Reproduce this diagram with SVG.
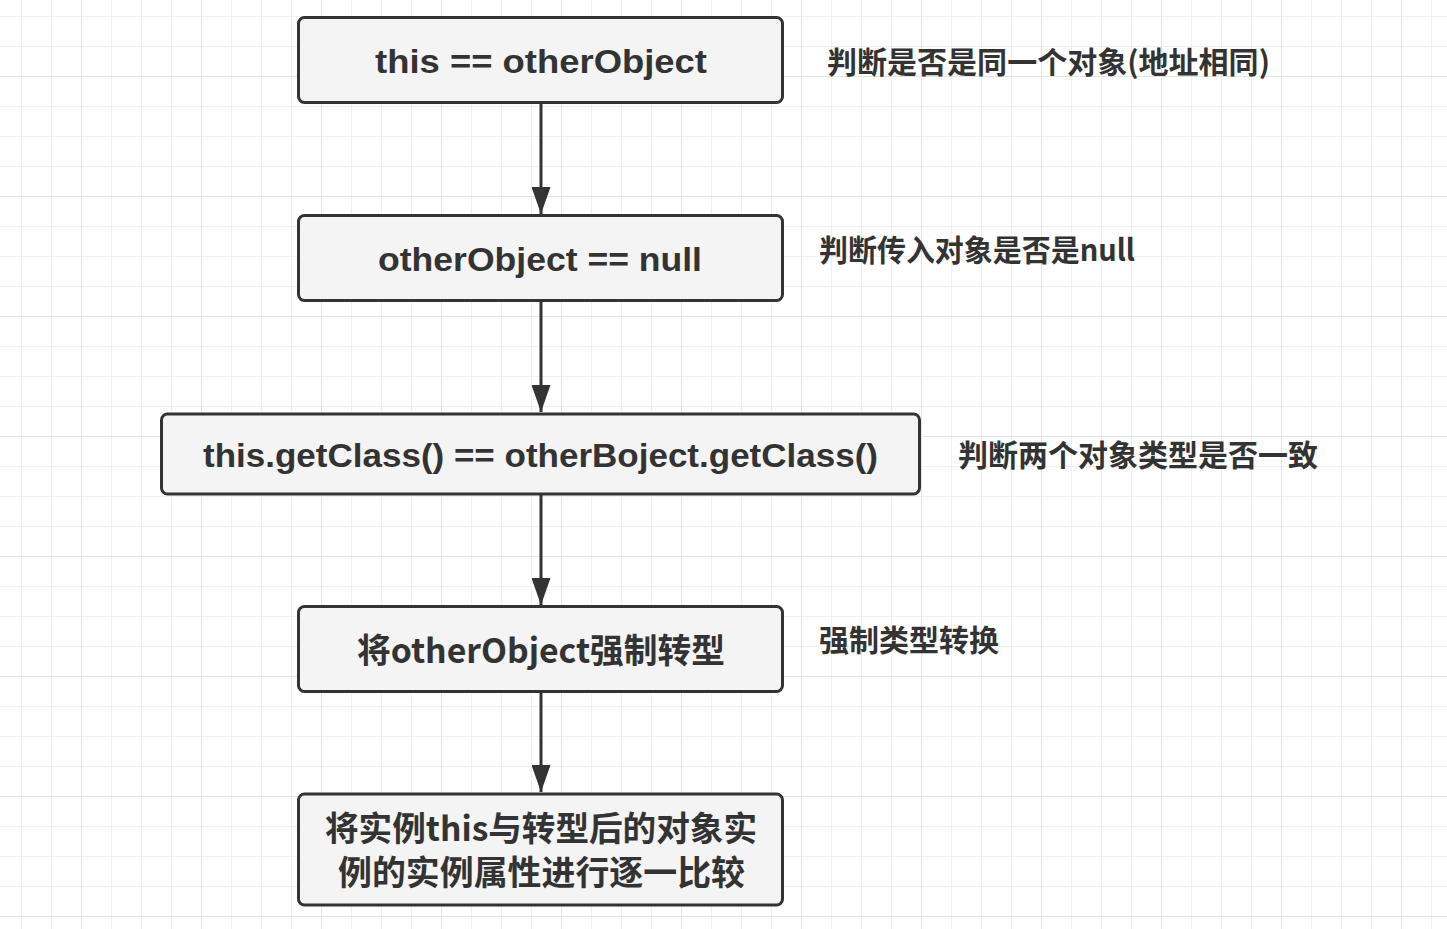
<svg xmlns="http://www.w3.org/2000/svg" width="1447" height="929" viewBox="0 0 1447 929">
<style>
.box{fill:#f4f4f4;stroke:#333;stroke-width:3}
.lbl{font-family:"Liberation Sans","Noto Sans CJK SC",sans-serif;font-weight:bold;font-size:33px;fill:#333;text-anchor:middle}
.cjk{font-family:"Noto Sans CJK SC","Liberation Sans",sans-serif;font-weight:bold;font-size:34px;fill:#333;text-anchor:middle}
.note{font-family:"Noto Sans CJK SC","Liberation Sans",sans-serif;font-weight:bold;font-size:30px;fill:#333}
.edge{stroke:#333;stroke-width:3;fill:none}
.minor{fill:#f0f0f0}
.major{fill:#e4e4e4}
</style>
<defs>
<pattern id="grid" patternUnits="userSpaceOnUse" x="0" y="0" width="120" height="120">
<rect class="minor" x="21" y="0" width="1" height="120"/>
<rect class="minor" x="51" y="0" width="1" height="120"/>
<rect class="minor" x="111" y="0" width="1" height="120"/>
<rect class="minor" x="0" y="16" width="120" height="1"/>
<rect class="minor" x="0" y="46" width="120" height="1"/>
<rect class="minor" x="0" y="106" width="120" height="1"/>
<rect class="major" x="81" y="0" width="1" height="120"/>
<rect class="major" x="0" y="76" width="120" height="1"/>
</pattern>
<marker id="arrow" markerUnits="userSpaceOnUse" markerWidth="27" markerHeight="19" refX="27" refY="9.5" orient="auto" viewBox="0 0 27 19">
<path d="M0,0 L27,9.5 L0,19 Z" fill="#333"/>
</marker>
</defs>
<rect x="0" y="0" width="1447" height="929" fill="#ffffff"/>
<rect x="0" y="0" width="1447" height="929" fill="url(#grid)"/>
<g id="connectors">
<line class="edge" x1="541" y1="104" x2="541" y2="214" marker-end="url(#arrow)"/>
<line class="edge" x1="541" y1="301" x2="541" y2="412" marker-end="url(#arrow)"/>
<line class="edge" x1="541" y1="495" x2="541" y2="605" marker-end="url(#arrow)"/>
<line class="edge" x1="541" y1="692" x2="541" y2="792" marker-end="url(#arrow)"/>
</g>
<g id="node1">
<rect class="box" x="298.5" y="17.5" width="484" height="85" rx="6"/>
<text class="lbl" x="541" y="73" textLength="332" lengthAdjust="spacingAndGlyphs">this == otherObject</text>
</g>
<g id="node2">
<rect class="box" x="298.5" y="215.5" width="484" height="85" rx="6"/>
<text class="lbl" x="540" y="271" textLength="324" lengthAdjust="spacingAndGlyphs">otherObject == null</text>
</g>
<g id="node3">
<rect class="box" x="161.5" y="414" width="758" height="80" rx="6"/>
<text class="lbl" x="540.5" y="466.5" textLength="675" lengthAdjust="spacingAndGlyphs">this.getClass() == otherBoject.getClass()</text>
</g>
<g id="node4">
<rect class="box" x="298.5" y="606.5" width="484" height="85" rx="6"/>
<text class="cjk" x="541" y="663" textLength="368" lengthAdjust="spacingAndGlyphs">将otherObject强制转型</text>
</g>
<g id="node5">
<rect class="box" x="298.5" y="794" width="484" height="111" rx="6"/>
<text class="cjk" x="541" y="841" textLength="432" lengthAdjust="spacingAndGlyphs">将实例this与转型后的对象实</text>
<text class="cjk" x="541.5" y="885" textLength="407" lengthAdjust="spacingAndGlyphs">例的实例属性进行逐一比较</text>
</g>
<g id="note1"><text class="note" x="827" y="73" textLength="443" lengthAdjust="spacingAndGlyphs">判断是否是同一个对象(地址相同)</text></g>
<g id="note2"><text class="note" x="819" y="261" textLength="316" lengthAdjust="spacingAndGlyphs">判断传入对象是否是null</text></g>
<g id="note3"><text class="note" x="958" y="466" textLength="360" lengthAdjust="spacingAndGlyphs">判断两个对象类型是否一致</text></g>
<g id="note4"><text class="note" x="819" y="651" textLength="180" lengthAdjust="spacingAndGlyphs">强制类型转换</text></g>
</svg>
